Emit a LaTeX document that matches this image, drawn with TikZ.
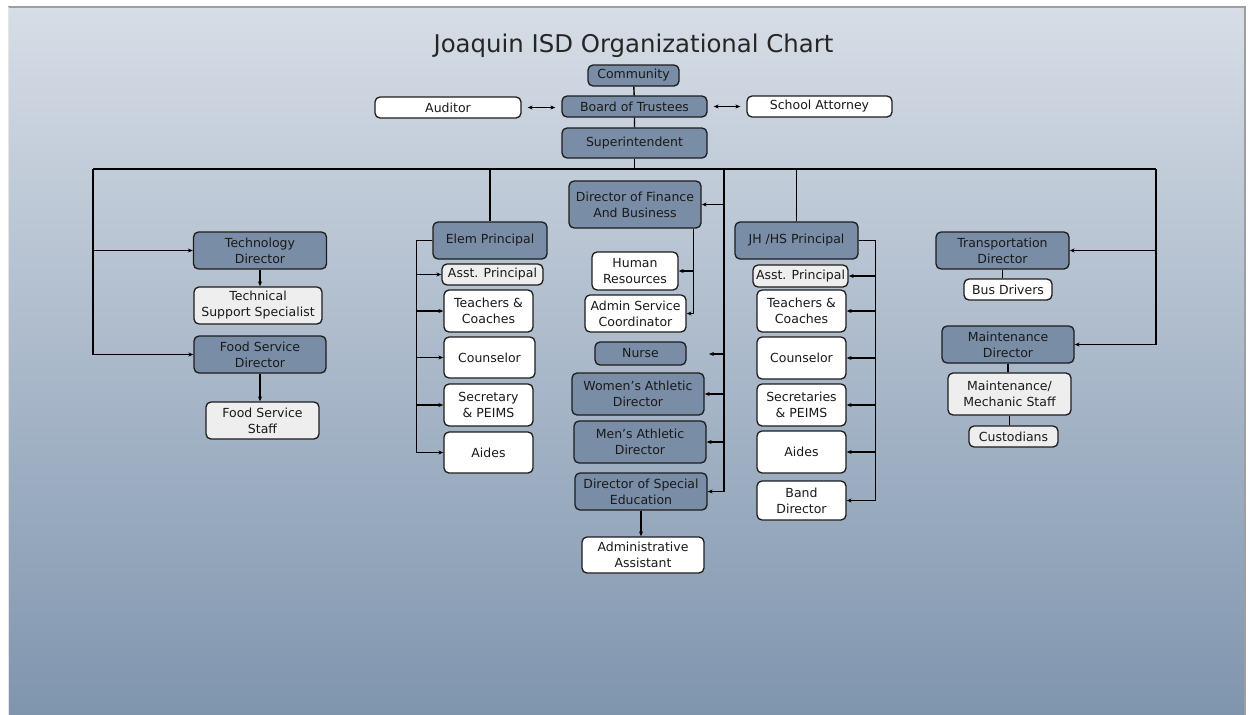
\documentclass[tikz,border=0pt]{standalone}
\usepackage{fontspec}
\setmainfont{DejaVu Sans}
\usetikzlibrary{arrows.meta,positioning}
\definecolor{paneltop}{RGB}{214,221,230}
\definecolor{panelbot}{RGB}{127,149,174}
\definecolor{boxdark}{RGB}{122,141,166}
\definecolor{boxlight}{RGB}{238,238,238}
\definecolor{boxline}{RGB}{28,28,28}

\begin{document}
\begin{tikzpicture}[x=1pt,y=-1pt,>={Stealth[length=5pt,width=4pt]},line width=1.4pt,
                    box/.style={draw=boxline,line width=1.3pt,rounded corners=5pt,align=center,inner sep=0pt,
                      font=\fontsize{12.5}{16}\selectfont,text=black!90},
                    dark node/.style={box,fill=boxdark}, white node/.style={box,fill=white},
                    light node/.style={box,fill=boxlight},
                    sz/.style 2 args={minimum width=#1pt,minimum height=#2pt}]

  % background panel
  \useasboundingbox (0,0) rectangle (1251,715);
  \fill[top color=paneltop,bottom color=panelbot] (8,7) rectangle (1245,715);
  \draw[gray!75,line width=1.5pt] (8,7) -- (1245,7) -- (1245,715);
  \draw[white!80!gray,line width=1pt] (8,7) -- (8,715);

  \node[anchor=base,text=black!85] (title) at (633.5,52) {\fontsize{24.4}{29}\selectfont Joaquin ISD Organizational Chart};

  % top of the chart
  \node[dark node,sz={91}{21}] (comm) at (633.5,75.5) {Community};
  \node[dark node,sz={145}{21}] (board) at (634.5,106.5) {Board of Trustees};
  \node[white node,sz={146}{21}] (aud) at (448,107.5) {Auditor};
  \node[white node,sz={145}{21}] (att) at (819.5,106.5) {School Attorney};
  \node[dark node,sz={145}{30}] (super) at (634.5,143) {Superintendent};

  % left column
  \node[dark node,sz={133}{37}] (techdir) at (260,250.5) {Technology\\Director};
  \node[light node,sz={128}{37}] (tss) at (258,305.5) {Technical\\Support Specialist};
  \node[dark node,sz={132}{37}] (fooddir) at (260,354.5) {Food Service\\Director};
  \node[light node,sz={113}{37}] (fss) at (262.5,420.5) {Food Service\\Staff};

  % elementary
  \node[dark node,sz={114}{37}] (elem) at (490,240.5) {Elem Principal};
  \node[light node,sz={101}{21}] (eap) at (492.5,274.5) {Asst. Principal};
  \node[white node,sz={89}{42}] (etc) at (488.5,311) {Teachers \&\\Coaches};
  \node[white node,sz={91}{41}] (ecou) at (489.5,357.5) {Counselor};
  \node[white node,sz={89}{42}] (esec) at (488.5,405) {Secretary\\\& PEIMS};
  \node[white node,sz={89}{41}] (eaid) at (488.5,452.5) {Aides};

  % center column
  \node[dark node,sz={132}{47}] (dfb) at (635,204.5) {Director of Finance\\And Business};
  \node[white node,sz={86}{38}] (hr) at (635,271) {Human\\Resources};
  \node[white node,sz={101}{37}] (asc) at (635.5,313.5) {Admin Service\\Coordinator};
  \node[dark node,sz={91}{23}] (nurse) at (640.5,353.5) {Nurse};
  \node[dark node,sz={132}{42}] (wad) at (638,394) {Women's Athletic\\Director};
  \node[dark node,sz={132}{42}] (mad) at (640,442) {Men's Athletic\\Director};
  \node[dark node,sz={132}{37}] (dse) at (641,491.5) {Director of Special\\Education};
  \node[white node,sz={122}{36}] (aa) at (643,555) {Administrative\\Assistant};

  % junior high / high school
  \node[dark node,sz={123}{37}] (jh) at (796.5,240.5) {JH /HS Principal};
  \node[light node,sz={95}{22}] (jap) at (800.5,276) {Asst. Principal};
  \node[white node,sz={89}{42}] (jtc) at (801.5,311) {Teachers \&\\Coaches};
  \node[white node,sz={89}{42}] (jcou) at (801.5,358) {Counselor};
  \node[white node,sz={89}{42}] (jsec) at (801.5,405) {Secretaries\\\& PEIMS};
  \node[white node,sz={89}{42}] (jaid) at (801.5,452) {Aides};
  \node[white node,sz={89}{39}] (jband) at (801.5,500.5) {Band\\Director};

  % right column
  \node[dark node,sz={133}{37}] (trans) at (1002.5,250.5) {Transportation\\Director};
  \node[white node,sz={88}{21}] (busdr) at (1008,289.5) {Bus Drivers};
  \node[dark node,sz={132}{37}] (maint) at (1008,344.5) {Maintenance\\Director};
  \node[light node,sz={123}{42}] (mstaff) at (1009.5,394) {Maintenance/\\Mechanic Staff};
  \node[light node,sz={89}{21}] (cust) at (1013.5,436.5) {Custodians};

  \coordinate (busL) at (93,169);
  \coordinate (busR) at (1156,169);
  \coordinate (busM) at (724,169);
  \coordinate (nursetip) at (709,354);
  \coordinate (dfbdrop) at ([xshift=-8pt]dfb.south east);

  % connectors
  \draw (comm) -- (board) -- (super);
  \draw[<->,line width=0.9pt,shorten <=6pt,shorten >=6pt] (aud.east) -- (aud.east -| board.west);
  \draw[<->,line width=0.9pt,shorten <=6pt,shorten >=6pt] (board.east) -- (board.east -| att.west);
  \draw (super) -- (super |- busL);
  \draw (busL) -- (busR);

  \draw[->] (busL) |- (techdir);
  \draw[->] (busL) |- (fooddir);
  \draw[->] (techdir.south) -- (techdir.south |- tss.north);
  \draw[->] (fooddir.south) -- (fooddir.south |- fss.north);

  \draw (elem) -- (elem |- busL);
  \foreach \n in {eap,etc,ecou,esec,eaid}
    \draw[->] (elem.west) -- ++(-16,0) |- (\n);

  \draw (busM) -- (busM |- dse.east);
  \foreach \n in {dfb,wad,mad,dse}
    \draw[->] (busM |- \n.east) -- (\n.east);
  \draw[->] (busM |- nursetip) -- (nursetip);
  \draw[->] (dfbdrop) |- (hr);
  \draw[->] (dfbdrop) |- (asc);
  \draw[->] (dse.south) -- (dse.south |- aa.north);

  \draw (jh) -- (jh |- busL);
  \foreach \n in {jap,jtc,jcou,jsec,jaid,jband}
    \draw[->] (jh.east) -- ++(17,0) |- (\n);

  \draw[->] (busR) |- (trans);
  \draw[->] (busR) |- (maint);
  \draw (trans.south) -- (trans.south |- busdr.north);
  \draw (maint.south) -- (maint.south |- mstaff.north);
  \draw (mstaff.south) -- (mstaff.south |- cust.north);

\end{tikzpicture}
\end{document}
